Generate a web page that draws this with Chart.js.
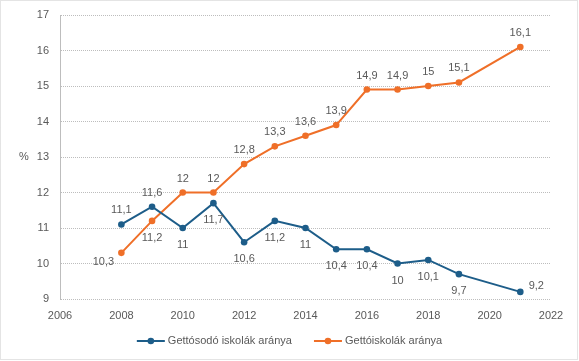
<!DOCTYPE html>
<html>
<head>
<meta charset="utf-8">
<script src="https://cdn.jsdelivr.net/npm/chart.js@4/dist/chart.umd.min.js"></script>
<style>
html,body{margin:0;padding:0;background:#fff;}
#wrap{width:579px;height:361px;position:relative;}
</style>
</head>
<body>
<div id="wrap"><canvas id="c" width="579" height="361"></canvas></div>
<script>
const years = [2008, 2009, 2010, 2011, 2012, 2013, 2014, 2015, 2016, 2017, 2018, 2019, 2021];
const seriesNames = ['Gettósodó iskolák aránya', 'Gettóiskolák aránya'];
const gettosodo = [11.1, 11.6, 11, 11.7, 10.6, 11.2, 11, 10.4, 10.4, 10, 10.1, 9.7, 9.2];
const gettoiskola = [10.3, 11.2, 12, 12, 12.8, 13.3, 13.6, 13.9, 14.9, 14.9, 15, 15.1, 16.1];
const xTicks = [2006, 2008, 2010, 2012, 2014, 2016, 2018, 2020, 2022];
const yTicks = [9, 10, 11, 12, 13, 14, 15, 16, 17];
const yTitle = '%';

// label placement per point (style)
const placeBlue = ['t','t','b','b','b','b','b','b','b','b','b','b','r'];
const placeOrange = ['l','b','t','t','t','t','t','t','t','t','t','t','t'];

const BLUE = '#1d5d89';
const ORANGE = '#ef6f28';
const TXT = '#595959';
const GRID = '#bdbdbd';
const FONT = '"Liberation Sans", Arial, sans-serif';

const fmt = v => String(v).replace('.', ',');

const labelPlugin = {
  id: 'valLabels',
  afterDatasetsDraw(chart){
    const ctx = chart.ctx;
    ctx.save();
    ctx.font = '11px ' + FONT;
    ctx.fillStyle = TXT;
    ctx.textAlign = 'center';
    ctx.textBaseline = 'middle';
    chart.data.datasets.forEach((ds, di) => {
      const meta = chart.getDatasetMeta(di);
      const places = ds.labelPlaces;
      meta.data.forEach((pt, i) => {
        const v = ds.data[i].y;
        let x = pt.x, y = pt.y;
        const p = places[i];
        if (p === 't') y -= 14;
        else if (p === 'b') y += 17;
        else if (p === 'l') { x -= 18; y += 9; }
        else if (p === 'r') { x += 16; y -= 6; }
        ctx.fillText(fmt(v), x, y);
      });
    });
    ctx.restore();
  }
};

const framePlugin = {
  id: 'frame',
  afterDraw(chart){
    const ctx = chart.ctx;
    const a = chart.chartArea;
    ctx.save();
    // y title
    ctx.font = '11px ' + FONT;
    ctx.fillStyle = TXT;
    ctx.textAlign = 'center';
    ctx.textBaseline = 'middle';
    ctx.fillText(yTitle, 24, (a.top + a.bottom) / 2);
    // legend
    const ly = 341;
    const iconW = 28, gapIcon = 3, gapItems = 22;
    const items = chart.data.datasets.map(ds => ({text: ds.label, color: ds.borderColor, w: ctx.measureText(ds.label).width}));
    let total = 0;
    items.forEach((it, i) => { total += iconW + gapIcon + it.w + (i ? gapItems : 0); });
    let x = chart.width / 2 - total / 2;
    ctx.textAlign = 'left';
    items.forEach((it, i) => {
      if (i) x += gapItems;
      ctx.strokeStyle = it.color; ctx.lineWidth = 2;
      ctx.beginPath(); ctx.moveTo(x, ly); ctx.lineTo(x + iconW, ly); ctx.stroke();
      ctx.fillStyle = it.color;
      ctx.beginPath(); ctx.arc(x + iconW / 2, ly, 3.3, 0, Math.PI * 2); ctx.fill();
      x += iconW + gapIcon;
      ctx.fillStyle = TXT;
      ctx.fillText(it.text, x, ly);
      x += it.w;
    });
    // outer dotted border
    ctx.strokeStyle = '#c8c8c8';
    ctx.lineWidth = 1;
    ctx.setLineDash([1, 1]);
    ctx.strokeRect(0.5, 0.5, chart.width - 2, chart.height - 2);
    ctx.restore();
  }
};

const toPts = arr => arr.map((v, i) => ({x: years[i], y: v}));

new Chart(document.getElementById('c'), {
  type: 'line',
  data: {
    datasets: [
      {label: seriesNames[0], data: toPts(gettosodo), borderColor: BLUE, backgroundColor: BLUE,
       borderWidth: 2, pointRadius: 3.3, pointBackgroundColor: BLUE, pointBorderWidth: 0,
       tension: 0, labelPlaces: placeBlue},
      {label: seriesNames[1], data: toPts(gettoiskola), borderColor: ORANGE, backgroundColor: ORANGE,
       borderWidth: 2, pointRadius: 3.3, pointBackgroundColor: ORANGE, pointBorderWidth: 0,
       tension: 0, labelPlaces: placeOrange}
    ]
  },
  options: {
    responsive: false,
    animation: false,
    layout: {padding: {top: 15, right: 28, bottom: 39, left: 0}},
    plugins: {
      tooltip: {enabled: false},
      legend: {display: false}
    },
    scales: {
      x: {
        type: 'linear',
        min: 2006, max: 2022,
        afterBuildTicks(s){ s.ticks = xTicks.map(v => ({value: v})); },
        afterFit(s){ s.height = 23; s.paddingLeft = 0; s.paddingRight = 0; },
        ticks: {color: TXT, font: {family: FONT, size: 11}, padding: 10, callback: v => String(v)},
        grid: {display: false, drawTicks: false},
        border: {display: false}
      },
      y: {
        min: 9, max: 17,
        afterBuildTicks(s){ s.ticks = yTicks.map(v => ({value: v})); },
        afterFit(s){ s.width = 60; s.paddingTop = 0; s.paddingBottom = 0; },
        ticks: {color: TXT, font: {family: FONT, size: 11}, padding: 11},
        grid: {color: GRID, lineWidth: 1, drawTicks: false},
        border: {display: true, color: GRID, dash: [1, 1]}
      }
    }
  },
  plugins: [labelPlugin, framePlugin]
});
</script>
</body>
</html>
